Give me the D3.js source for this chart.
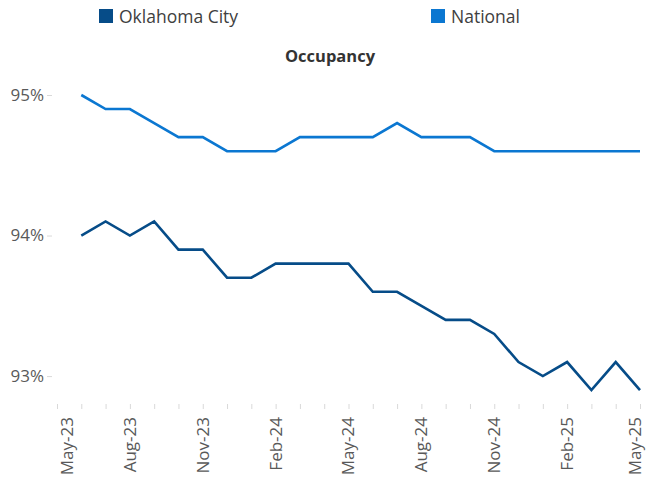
<!DOCTYPE html>
<html>
<head>
<meta charset="utf-8">
<script src="https://cdn.jsdelivr.net/npm/d3@7"></script>
<style>
  body { margin: 0; background: #fff; }
  svg { display: block; font-family: "Open Sans", sans-serif; }
</style>
</head>
<body>
<div id="chart"></div>
<script>
// axis months, May-23 .. May-25
var months = ["May-23","Jun-23","Jul-23","Aug-23","Sep-23","Oct-23","Nov-23","Dec-23","Jan-24","Feb-24","Mar-24","Apr-24",
              "May-24","Jun-24","Jul-24","Aug-24","Sep-24","Oct-24","Nov-24","Dec-24","Jan-25","Feb-25","Mar-25","Apr-25","May-25"];
// data runs Jun-23 .. May-25
var dataMonths = months.slice(1);
var okcValues = [94.0, 94.1, 94.0, 94.1, 93.9, 93.9, 93.7, 93.7, 93.8, 93.8, 93.8, 93.8,
                 93.6, 93.6, 93.5, 93.4, 93.4, 93.3, 93.1, 93.0, 93.1, 92.9, 93.1, 92.9];
var nationalValues = [95.0, 94.9, 94.9, 94.8, 94.7, 94.7, 94.6, 94.6, 94.6, 94.7, 94.7, 94.7,
                      94.7, 94.8, 94.7, 94.7, 94.7, 94.6, 94.6, 94.6, 94.6, 94.6, 94.6, 94.6];
var xTickLabels = ["May-23","Aug-23","Nov-23","Feb-24","May-24","Aug-24","Nov-24","Feb-25","May-25"];
var yTicks = [93, 94, 95];

var series = [
    { name: "Oklahoma City", values: okcValues, color: "#064C88" },
    { name: "National", values: nationalValues, color: "#0B77D1" }
];

var width = 646, height = 482;

var svg = d3.select("#chart")
    .append("svg")
        .attr("width", width)
        .attr("height", height);

var x = d3.scalePoint()
    .domain(months)
    .range([57, 640]);

var y = d3.scaleLinear()
    .domain([92.78, 95])
    .range([407, 95]);

// legend
var legendX = [99, 431];
series.forEach(function(s, i) {
    var g = svg.append("g").attr("transform", "translate(" + legendX[i] + ",9)");
    g.append("rect")
        .attr("width", 14)
        .attr("height", 14)
        .attr("fill", s.color);
    g.append("text")
        .attr("x", 20)
        .attr("y", 14)
        .style("font-size", "17.5px")
        .style("fill", "#404040")
        .text(s.name);
});

// title
svg.append("text")
    .attr("x", 330)
    .attr("y", 62)
    .style("text-anchor", "middle")
    .style("font-size", "16.5px")
    .style("font-weight", "bold")
    .style("fill", "#333")
    .text("Occupancy");

// x axis ticks
var xAxis = svg.append("g")
    .attr("class", "axis axis--x")
    .attr("transform", "translate(0,404)")
    .call(d3.axisBottom(x).tickSize(5).tickFormat(""));
xAxis.select(".domain").remove();
xAxis.selectAll("line").attr("stroke", "#d9d9d9");

// first and last labels are pulled inside the plot, like the original
var last = xTickLabels.length - 1;
svg.selectAll(".xlabel")
    .data(xTickLabels)
    .enter().append("text")
    .attr("class", "xlabel")
    .attr("transform", function(d, i) {
        var px = x(d) + (i === 0 ? 10 : 0) + (i === last ? -5 : 0);
        return "translate(" + px + ",417) rotate(-90)";
    })
    .attr("dy", "0.35em")
    .style("text-anchor", "end")
    .style("font-size", "17px")
    .style("fill", "#595959")
    .text(function(d) { return d; });

// y axis
var yAxis = svg.append("g")
    .attr("class", "axis axis--y")
    .attr("transform", "translate(52,0)")
    .call(d3.axisLeft(y).tickValues(yTicks).tickSize(5).tickPadding(3)
        .tickFormat(function(d) { return d + "%"; }));
yAxis.select(".domain").remove();
yAxis.selectAll("line").attr("stroke", "#d9d9d9");
yAxis.selectAll("text")
    .style("font-size", "17px")
    .style("font-family", "Open Sans, sans-serif")
    .style("fill", "#595959");

// lines
var line = d3.line()
    .x(function(d, i) { return x(dataMonths[i]); })
    .y(function(d) { return y(d); });

series.forEach(function(s) {
    svg.append("path")
        .datum(s.values)
        .attr("fill", "none")
        .attr("stroke", s.color)
        .attr("stroke-width", 2.6)
        .attr("stroke-linejoin", "miter")
        .attr("d", line);
});
</script>
</body>
</html>
